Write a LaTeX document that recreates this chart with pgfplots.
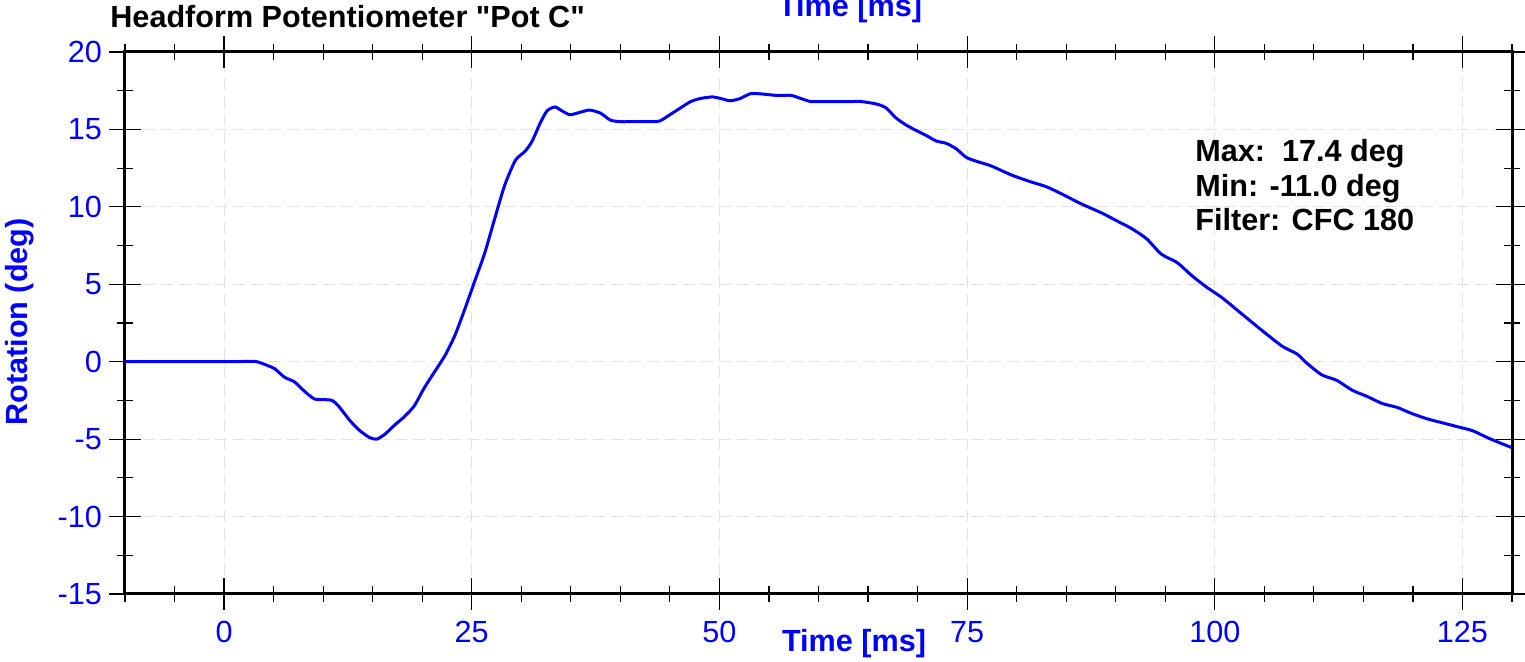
\documentclass[border=0pt]{standalone}
\usepackage{fontspec}
\setmainfont{Liberation Sans}[Ligatures=TeXOff]
\usepackage{pgfplots}
\pgfplotsset{compat=1.18}
\definecolor{myblue}{RGB}{0,0,255}
\definecolor{gridgray}{RGB}{226,226,226}
\begin{document}
\begin{tikzpicture}
\useasboundingbox (-62.5pt,-34pt) rectangle (700pt,297pt);
\begin{axis}[
  width=693.5pt, height=271pt, scale only axis,
  xmin=-10, xmax=130, ymin=-15, ymax=20,
  xtick={0,25,...,125}, ytick={-15,-10,...,20},
  minor xtick={-10,-5,...,130},
  minor ytick={-12.5,-7.5,...,17.5},
  tick align=center, major tick length=16pt, minor tick length=8pt,
  tick style={black, line width=0.6pt},
  axis line style={line width=1.5pt},
  grid=major,
  major grid style={gridgray, dash pattern=on 6pt off 3pt, line width=0.5pt},
  ticklabel style={font=\fontsize{15.3}{17}\selectfont, text=myblue},
  /pgf/number format/assume math mode=true,
  xticklabel shift=2pt,
  yticklabel shift=0pt,
]
\addplot[myblue, line width=1.5pt, smooth, tension=0.4] coordinates {
(-10,0) (0,0) (2.5,0.02) (3.3,0) (4.2,-0.2) (5.1,-0.45) (6.1,-1.0) (7.1,-1.3) (8.1,-1.9) (9.1,-2.4) (10.1,-2.45) (10.9,-2.5) (11.6,-2.9) (12.7,-3.8) (13.7,-4.45) (14.7,-4.9) (15.4,-5.0) (16.2,-4.7) (17.2,-4.1) (18.2,-3.55) (19.2,-2.85) (20.2,-1.7) (21.3,-0.6) (22.3,0.4) (23.3,1.7) (24.3,3.4) (25.3,5.2) (26.3,7.0) (27.3,9.2) (28.3,11.35) (29.4,13.0) (30.4,13.6) (31.1,14.25) (31.9,15.4) (32.6,16.2) (33.4,16.45) (34.1,16.2) (34.9,15.95) (35.9,16.1) (36.9,16.25) (38.0,16.05) (39.0,15.6) (40.0,15.5) (41.5,15.5) (43.0,15.5) (44.0,15.55) (45.0,15.95) (46.1,16.4) (47.1,16.8) (48.1,17.0) (49.3,17.1) (50.1,17.0) (51.1,16.85) (52.1,17.0) (53.1,17.3) (54.1,17.3) (55.7,17.2) (57.2,17.2) (58.2,17.0) (59.2,16.8) (60.2,16.8) (61.7,16.8) (63.3,16.8) (64.3,16.8) (65.8,16.65) (66.8,16.4) (67.8,15.75) (68.8,15.3) (69.8,14.95) (70.9,14.6) (71.9,14.25) (72.9,14.1) (73.9,13.75) (74.9,13.2) (75.9,12.95) (77.4,12.65) (79.5,12.05) (81.5,11.6) (83.0,11.3) (84.5,10.85) (86.5,10.2) (88.6,9.6) (90.1,9.1) (91.6,8.6) (93.1,7.95) (94.6,6.95) (96.2,6.4) (97.7,5.55) (99.2,4.8) (100.7,4.15) (102.7,3.1) (104.8,2.0) (106.8,1.0) (108.3,0.5) (109.3,-0.1) (110.8,-0.85) (112.3,-1.2) (113.9,-1.85) (115.4,-2.25) (116.9,-2.7) (118.4,-2.95) (119.9,-3.35) (121.5,-3.7) (123.0,-3.95) (124.5,-4.2) (126.0,-4.45) (127.5,-4.9) (129.0,-5.3) (130,-5.55)
};
\end{axis}
\tikzset{lbl/.style={inner sep=0pt, font=\bfseries\fontsize{15.3}{17}\selectfont}}
\node[lbl, anchor=base west] at (-7.5pt,283pt) {Headform Potentiometer "Pot C"};
\node[lbl, anchor=base, text=myblue] at (362.5pt,288.5pt) {Time [ms]};
\node[lbl, anchor=base, text=myblue] at (364.5pt,-29pt) {Time [ms]};
\node[lbl, rotate=90, text=myblue] at (-52.5pt,136pt) {Rotation (deg)};
\node[lbl, anchor=base west] at (535pt,216pt) {Max:\ \ 17.4 deg};
\node[lbl, anchor=base west] at (535pt,198.5pt) {Min: -11.0 deg};
\node[lbl, anchor=base west] at (535pt,181.5pt) {Filter: CFC 180};
\end{tikzpicture}
\end{document}
